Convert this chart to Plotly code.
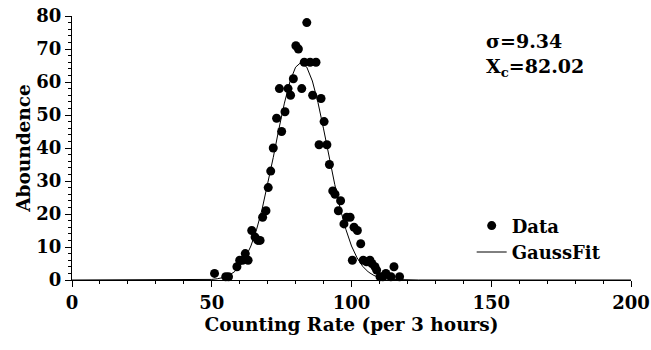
import plotly.graph_objects as go

# Data points (Counting rate, Abundance)
data_x = [51, 55, 56, 59, 60, 61, 62, 63, 64.3, 65.5, 66.5, 67.3, 68.2, 69.4, 70.2, 71.1,
          72, 73.2, 74.2, 75, 76.2, 77.3, 78.2, 79.2, 80.1, 81, 82.2, 83.1, 84, 85.2,
          86.1, 87.3, 88.4, 89.1, 90.2, 91.2, 92.1, 93.3, 94.1, 95.3, 96.1, 97.3, 98.3,
          99.5, 100.3, 100.9, 102.1, 103.3, 104.2, 105.4, 106.6, 107.3, 108.4, 109,
          110.2, 111.2, 112.3, 114.1, 115.2, 117.2]
data_y = [2, 1, 1, 4, 6, 6, 8, 6, 15, 13, 12, 12, 19, 21, 28, 33,
          40, 49, 58, 45, 51, 58, 56, 61, 71, 70, 58, 66, 78, 66,
          56, 66, 41, 55, 48, 41, 35, 27, 26, 21, 24, 17, 19,
          19, 6, 16, 15, 11, 6, 5.5, 6, 5, 4, 3,
          1, 1, 2, 1, 4, 1]

# Gauss fit curve (sigma = 9.34, Xc = 82.02), values read at 2-unit steps
fit_x = [0, 40, 50, 52, 54, 56, 58, 60, 62, 64, 66, 68, 70, 72, 74, 76, 78, 80, 82,
         84, 86, 88, 90, 92, 94, 96, 98, 100, 102, 104, 106, 108, 110, 112, 114, 124, 200]
fit_y = [0, 0, 0.18, 0.38, 0.73, 1.36, 2.42, 4.10, 6.64, 10.3, 15.2, 21.4, 28.8, 37.1,
         45.7, 53.6, 60.2, 64.5, 66.0, 64.5, 60.3, 53.8, 45.8, 37.3, 29.0, 21.5, 15.3,
         10.3, 6.7, 4.14, 2.44, 1.38, 0.74, 0.38, 0.19, 0, 0]

x_ticks = [0, 50, 100, 150, 200]
y_ticks = [0, 10, 20, 30, 40, 50, 60, 70, 80]

FONT = "DejaVu Serif"

fig = go.Figure()
fig.add_trace(go.Scatter(
    x=data_x, y=data_y, mode="markers", name="Data",
    marker=dict(color="black", size=9, line=dict(width=0)),
    cliponaxis=False,
))
fig.add_trace(go.Scatter(
    x=fit_x, y=fit_y, mode="lines", name="GaussFit",
    line=dict(color="black", width=1),
))

fig.update_layout(
    width=651, height=350,
    margin=dict(l=72, r=20, t=16, b=70, autoexpand=False),
    paper_bgcolor="white", plot_bgcolor="white",
    font=dict(family=FONT, size=17, color="black", weight="bold"),
    showlegend=True,
    legend=dict(x=0.715, y=0.275, xanchor="left", yanchor="top",
                bgcolor="rgba(0,0,0,0)", font=dict(size=18, weight="bold"),
                itemwidth=30, tracegroupgap=0),
    annotations=[dict(
        x=0.737, y=0.955, xref="paper", yref="paper", xanchor="left", yanchor="top",
        align="left", showarrow=False,
        text="σ=9.34<br>X<sub>c</sub>=82.02",
        font=dict(size=19, weight="bold"),
    )],
)
fig.update_xaxes(
    range=[0, 200], tickvals=x_ticks, showgrid=False, zeroline=False, automargin=False,
    showline=True, linecolor="black", linewidth=1,
    ticks="outside", ticklen=6, tickcolor="black",
    minor=dict(dtick=10, ticks="outside", ticklen=3, tickcolor="black"),
    tickfont=dict(size=18, weight="bold"),
    title=dict(text="Counting Rate (per 3 hours)", font=dict(size=18.5, weight="bold"), standoff=6),
)
fig.update_yaxes(
    range=[0, 80], tickvals=y_ticks, showgrid=False, zeroline=False, automargin=False,
    showline=True, linecolor="black", linewidth=1,
    ticks="outside", ticklen=6, tickcolor="black",
    minor=dict(dtick=2, ticks="outside", ticklen=3, tickcolor="black"),
    tickfont=dict(size=18, weight="bold"),
    title=dict(text="Aboundence", font=dict(size=18.5, weight="bold"), standoff=0),
)

fig.write_html("out.html", config={"displayModeBar": False},
               post_script="document.body.style.margin='0';")
